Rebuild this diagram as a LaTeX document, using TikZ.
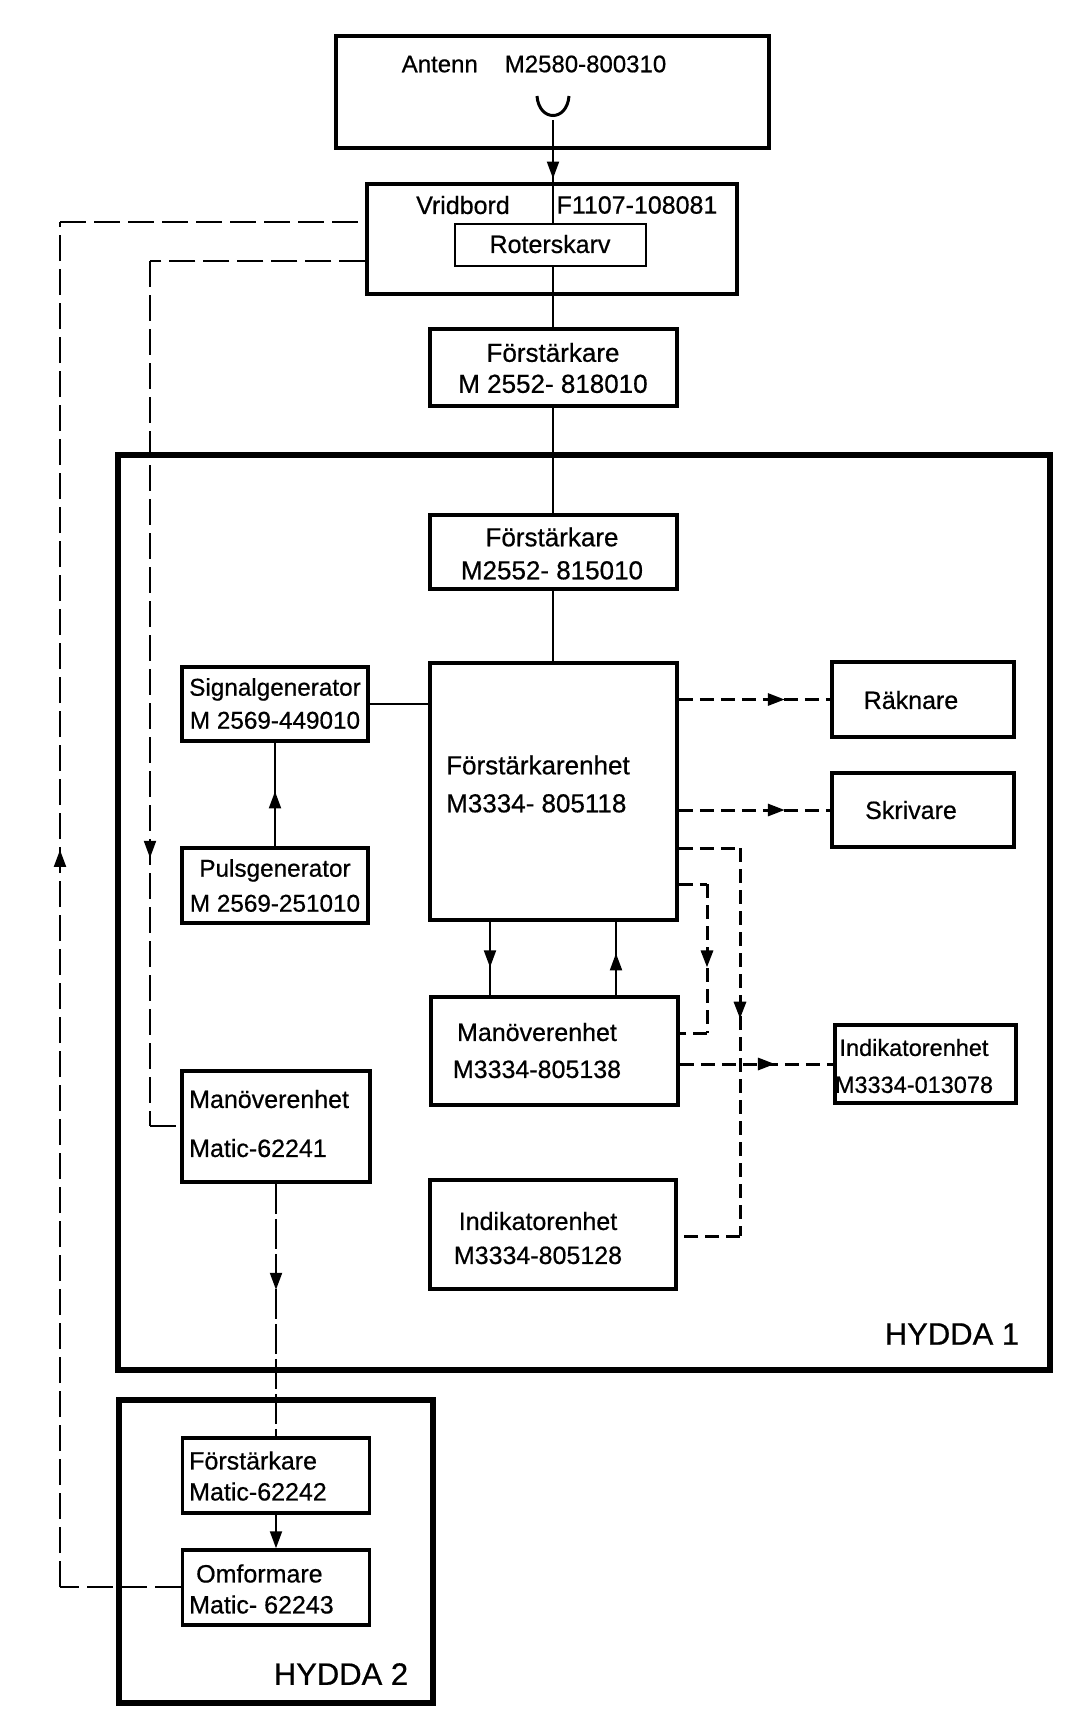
\documentclass[tikz,border=0pt]{standalone}
\usepackage{fontspec}
\setmainfont{Liberation Sans}[FakeBold=0.6]
\usetikzlibrary{arrows.meta,decorations.markings}
\tikzset{
  box/.style={draw, line width=3.5pt, rectangle, inner sep=0pt},
  thinbox/.style={draw, line width=2.5pt, rectangle, inner sep=0pt},
  hut/.style={draw, line width=5.5pt, rectangle, inner sep=0pt},
  txt/.style={inner sep=0pt, align=center, font=\fontsize{25}{33}\selectfont},
  conn/.style={line width=2pt},
  rdash/.style={line width=3pt, dash pattern=on 14pt off 7pt},
  ldash/.style={line width=2pt, dash pattern=on 26pt off 8pt},
  mdash/.style={line width=2pt, dash pattern=on 30pt off 5pt},
  tipA/.tip={Triangle[length=17pt,width=12pt]},
  midarrow/.style={postaction={decorate, decoration={markings,
      mark=at position #1 with {\arrow{tipA}}}}}
}
\begin{document}
\begin{tikzpicture}[x=1pt,y=-1pt]
\fill[white] (0,0) rectangle (1092,1717);
\useasboundingbox (0,0) rectangle (1092,1717);

% boxes
\node[box, minimum width=433, minimum height=112] (ant) at (552.5,92) {};
\node[box, minimum width=370, minimum height=110] (vrid) at (552,239) {};
\node[thinbox, minimum width=191, minimum height=42] (rot) at (550.5,245) {};
\node[box, minimum width=247, minimum height=77] (f1) at (553.5,367.5) {};
\node[hut, minimum width=932, minimum height=915] (hyd1) at (584,912.5) {};
\node[box, minimum width=247, minimum height=74] (f2) at (553.5,552) {};
\node[box, minimum width=247, minimum height=257] (fe) at (553.5,791.5) {};
\node[box, minimum width=186, minimum height=74] (sig) at (275,704) {};
\node[box, minimum width=186, minimum height=75] (puls) at (275,885.5) {};
\node[box, minimum width=182, minimum height=75] (rak) at (923,699.5) {};
\node[box, minimum width=182, minimum height=74] (skr) at (923,810) {};
\node[box, minimum width=247, minimum height=108] (man) at (554.5,1051) {};
\node[box, minimum width=181, minimum height=78] (ind1) at (925.5,1064) {};
\node[box, minimum width=188, minimum height=111] (mat) at (276,1126.5) {};
\node[box, minimum width=246, minimum height=109] (ind2) at (553,1234.5) {};
\node[hut, minimum width=314, minimum height=303] (hyd2) at (276,1551.5) {};
\node[box, minimum width=187, minimum height=75] (fm) at (276,1475.5) {};
\node[box, minimum width=187, minimum height=75] (omf) at (276,1587.5) {};

% texts
\node[txt, font=\fontsize{24}{33}\selectfont] (antT) at (534,64) {Antenn\hspace{27pt}M2580-800310};
\node[txt] (vridT1) at (463,205) {Vridbord};
\node[txt] (vridT2) at (637,205) {F1107-108081};
\node[txt] (rotT) at (550,244) {Roterskarv};
\node[txt, font=\fontsize{26}{31}\selectfont] (f1T) at (553,368) {Förstärkare\\M 2552- 818010};
\node[txt, font=\fontsize{26}{33}\selectfont] (f2T) at (552,553.5) {Förstärkare\\M2552- 815010};
\node[txt, font=\fontsize{24.3}{33}\selectfont] (sigT) at (275,703.5) {Signalgenerator\\M 2569-449010};
\node[txt, font=\fontsize{24.3}{35}\selectfont] (pulsT) at (275,885.5) {Pulsgenerator\\M 2569-251010};
\node[txt, align=left, anchor=west, font=\fontsize{26}{38}\selectfont] (feT) at (446,784) {Förstärkarenhet\\M3334- 805118};
\node[txt] (rakT) at (911,700) {Räknare};
\node[txt] (skrT) at (911,810) {Skrivare};
\node[txt, font=\fontsize{25}{37}\selectfont] (manT) at (537,1050.5) {Manöverenhet\\M3334-805138};
\node[txt, font=\fontsize{23.5}{37}\selectfont] (ind1T) at (914,1066) {Indikatorenhet\\M3334-013078};
\node[txt, align=left, anchor=west, font=\fontsize{25}{49}\selectfont] (matT) at (189,1123.5) {Manöverenhet\\Matic-62241};
\node[txt, font=\fontsize{25}{34}\selectfont] (ind2T) at (538,1238) {Indikatorenhet\\M3334-805128};
\node[txt, align=left, anchor=west, font=\fontsize{25}{31}\selectfont] (fmT) at (189,1476) {Förstärkare\\Matic-62242};
\node[txt, align=left, anchor=west, font=\fontsize{25}{31}\selectfont] (omfT) at (189,1589) {\hspace{7pt}Omformare\\Matic- 62243};
\node[inner sep=0pt, font=\fontsize{31}{31}\selectfont] (h1T) at (952,1334) {HYDDA 1};
\node[inner sep=0pt, font=\fontsize{31}{31}\selectfont] (h2T) at (341,1674) {HYDDA 2};

% antenna symbol
\coordinate (antU) at (553,120);
\draw[line width=3pt] (537,96) .. controls (539,122) and (567,122) .. (569,96);

% main chain
\draw[conn, midarrow=0.57] (antU) -- (rot.north -| antU);
\draw[conn] (rot.south -| antU) -- (f1.north -| antU);
\draw[conn] (f1.south -| antU) -- (f2.north -| antU);
\draw[conn] (f2.south -| antU) -- (fe.north -| antU);

% signal / puls
\draw[conn] (sig.east) -- (sig.east -| fe.west);
\draw[conn, midarrow=0.53] (puls.north) -- (sig.south);

% right outputs
\draw[rdash, midarrow=0.7] (rak.west -| fe.east) -- (rak.west);
\draw[rdash, midarrow=0.7] (skr.west -| fe.east) -- (skr.west);
\draw[rdash, midarrow=0.62] (ind1.west -| man.east) -- (ind1.west);

% fe <-> man
\coordinate (xa) at (490,0);
\coordinate (xb) at (616,0);
\draw[conn, midarrow=0.62] (fe.south -| xa) -- (man.north -| xa);
\draw[conn, midarrow=0.57] (man.north -| xb) -- (fe.south -| xb);

% dashed loops on the right
\coordinate (rA) at (740,848);
\coordinate (rB) at (740,1236);
\draw[rdash] (fe.east |- rA) -- (rA);
\draw[rdash, midarrow=0.44] (rA) -- (rB);
\draw[rdash] (rB) -- (ind2.east |- rB);
\coordinate (sA) at (707,884);
\coordinate (sB) at (707,1033);
\draw[rdash] (fe.east |- sA) -- (sA);
\draw[rdash, midarrow=0.56] (sA) -- (sB);
\draw[rdash] (sB) -- (man.east |- sB);

% left dashed loops
\coordinate (iA) at (150,261);
\coordinate (iB) at (150,1126);
\draw[ldash] (vrid.west |- iA) -- (iA);
\draw[ldash, midarrow=0.69] (iA) -- (iB);
\draw[ldash] (iB) -- (mat.west |- iB);
\coordinate (oA) at (60,1587);
\coordinate (oB) at (60,222);
\draw[ldash] (omf.west |- oA) -- (oA);
\draw[ldash, midarrow=0.54] (oA) -- (oB);
\draw[ldash] (oB) -- (vrid.west |- oB);

% hydda 2 chain
\draw[mdash, midarrow=0.42] (mat.south) -- (fm.north);
\draw[conn, -{tipA}] (fm.south) -- (omf.north);
\end{tikzpicture}
\end{document}
